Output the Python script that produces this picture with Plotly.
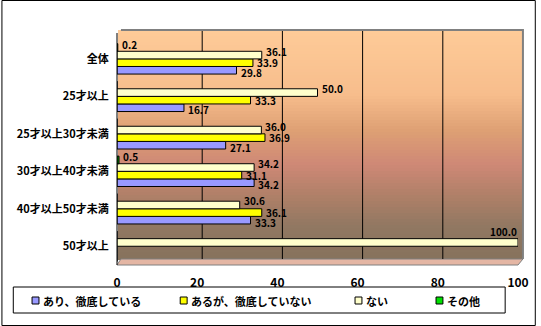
import plotly.graph_objects as go

# Survey results (%), one list per answer
categories = ["全体", "25才以上", "25才以上30才未満", "30才以上40才未満", "40才以上50才未満", "50才以上"]
series_names = ["あり、徹底している", "あるが、徹底していない", "ない", "その他"]
ari = [29.8, 16.7, 27.1, 34.2, 33.3, 0.0]
aruga = [33.9, 33.3, 36.9, 31.1, 36.1, 0.0]
nai = [36.1, 50.0, 36.0, 34.2, 30.6, 100.0]
sonota = [0.2, 0.0, 0.0, 0.5, 0.0, 0.0]
x_ticks = [0, 20, 40, 60, 80, 100]

series_values = [ari, aruga, nai, sonota]
series_colors = ["#9999FF", "#FFFF00", "#FFFFCC", "#00A000"]
legend_colors = ["#9999FF", "#FFFF00", "#FFFFCC", "#00E000"]

W, H = 541, 326
L, R, T, B = 117, 523, 36, 265  # plot area in pixels
BARGAP = 0.19


def px(x):
    return (x - L) / (R - L)


def py(y):
    return (B - y) / (B - T)


cat_order = categories[::-1]  # first category drawn at the top

fig = go.Figure()
for name, vals, col in zip(series_names, series_values, series_colors):
    fig.add_trace(go.Bar(
        y=categories, x=vals, name=name, orientation="h",
        marker=dict(color=col, line=dict(color="#000000", width=1)),
        showlegend=False,
    ))

# value labels, placed at the end of each bar of the group
label_font = dict(family="Noto Sans CJK JP", size=10, color="#000000", weight="bold")
annotations = []
n = len(series_values)
bw = (1 - BARGAP) / n
label_lift = [-2, 0, 4, 3]  # small vertical nudges per series, in pixels
for i, vals in enumerate(series_values):
    off = -(1 - BARGAP) / 2 + bw * (i + 0.5)
    for cat, v in zip(categories, vals):
        if v <= 0:
            continue
        yy = cat_order.index(cat) + off
        if v > 90:
            annotations.append(dict(x=v, y=yy, xref="x", yref="y", text=f"{v:.1f}",
                                    xanchor="right", yanchor="middle", showarrow=False,
                                    yshift=11, xshift=0, font=label_font, borderpad=0))
        else:
            annotations.append(dict(x=v, y=yy, xref="x", yref="y", text=f"{v:.1f}",
                                    xanchor="left", yanchor="middle", showarrow=False,
                                    xshift=3, yshift=label_lift[i], font=label_font,
                                    borderpad=0))

shapes = []

# background gradient on the back wall
stops = [(30, (254, 203, 152)), (95, (247, 189, 140)), (130, (222, 160, 116)),
         (165, (206, 136, 118)), (195, (176, 128, 104)), (225, (146, 120, 98)),
         (260, (134, 114, 92))]


def color_at(y):
    for (y0, c0), (y1, c1) in zip(stops[:-1], stops[1:]):
        if y0 <= y <= y1:
            t = (y - y0) / (y1 - y0)
            return "rgb(%d,%d,%d)" % tuple(round(a + (b - a) * t) for a, b in zip(c0, c1))
    return "rgb(%d,%d,%d)" % stops[-1][1]


y = 30
while y < 260:
    y2 = min(y + 3, 260)
    shapes.append(dict(type="rect", xref="paper", yref="paper", layer="below",
                       x0=px(118), x1=px(528), y0=py(y2), y1=py(y),
                       fillcolor=color_at((y + y2) / 2), line=dict(width=0)))
    y = y2

# floor of the chart
shapes.append(dict(type="path", xref="paper", yref="paper", layer="below",
                   path=f"M {px(117)},{py(265)} L {px(523)},{py(265)} L {px(528)},{py(259)} L {px(121)},{py(259)} Z",
                   fillcolor="#E4B6A4", line=dict(color="#808080", width=1)))

# back-wall gridlines, offset by the depth of the wall
for v in x_ticks[1:-1]:
    shapes.append(dict(type="line", xref="x", yref="paper", layer="below",
                       xsizemode="pixel", xanchor=v, x0=5, x1=5,
                       y0=py(259), y1=py(30), line=dict(color="#000000", width=1)))

# back-wall outline (top and right edges)
shapes.append(dict(type="path", xref="paper", yref="paper", layer="below",
                   path=f"M {px(121)},{py(30)} L {px(528)},{py(30)} L {px(528)},{py(259)}",
                   line=dict(color="#808080", width=2)))

# left wall edge
shapes.append(dict(type="line", xref="paper", yref="paper",
                   x0=px(117), x1=px(117), y0=py(265), y1=py(33),
                   line=dict(color="#000000", width=1)))

# outer frame
shapes.append(dict(type="rect", xref="paper", yref="paper",
                   x0=px(0.5), x1=px(540.5), y0=py(325.5), y1=py(0.5),
                   line=dict(color="#000000", width=1)))

# legend box
shapes.append(dict(type="rect", xref="paper", yref="paper",
                   x0=px(12), x1=px(510), y0=py(313), y1=py(287),
                   fillcolor="#FFFFFF", line=dict(color="#000000", width=1)))

legend_x = [34, 184, 361, 443]
for lx, name, col in zip(legend_x, series_names, legend_colors):
    shapes.append(dict(type="rect", xref="paper", yref="paper",
                       x0=px(lx - 3), x1=px(lx + 4), y0=py(304), y1=py(297),
                       fillcolor=col, line=dict(color="#000000", width=1)))
    annotations.append(dict(xref="paper", yref="paper", x=px(lx + 6), y=py(300.5),
                            xanchor="left", yanchor="middle", showarrow=False,
                            text=name,
                            font=dict(family="Noto Sans CJK JP", size=11, color="#000000", weight="bold")))

fig.update_layout(
    width=W, height=H,
    margin=dict(l=L, r=W - R, t=T, b=H - B, pad=0),
    paper_bgcolor="#FFFFFF", plot_bgcolor="rgba(0,0,0,0)",
    barmode="group", bargap=BARGAP, bargroupgap=0.0,
    shapes=shapes, annotations=annotations,
    xaxis=dict(range=[0, 100], tickvals=x_ticks, showgrid=False, zeroline=False,
               showline=False, ticks="outside", ticklen=7, tickcolor="rgba(0,0,0,0)",
               tickfont=dict(family="Noto Sans CJK JP", size=12, color="#000000", weight="bold"),
               fixedrange=True),
    yaxis=dict(categoryorder="array", categoryarray=cat_order, showgrid=False,
               showline=False, ticks="outside", ticklen=5, tickcolor="rgba(0,0,0,0)",
               tickfont=dict(family="Noto Sans CJK JP", size=11, color="#000000", weight="bold"),
               fixedrange=True),
)

fig.write_html("out.html")
